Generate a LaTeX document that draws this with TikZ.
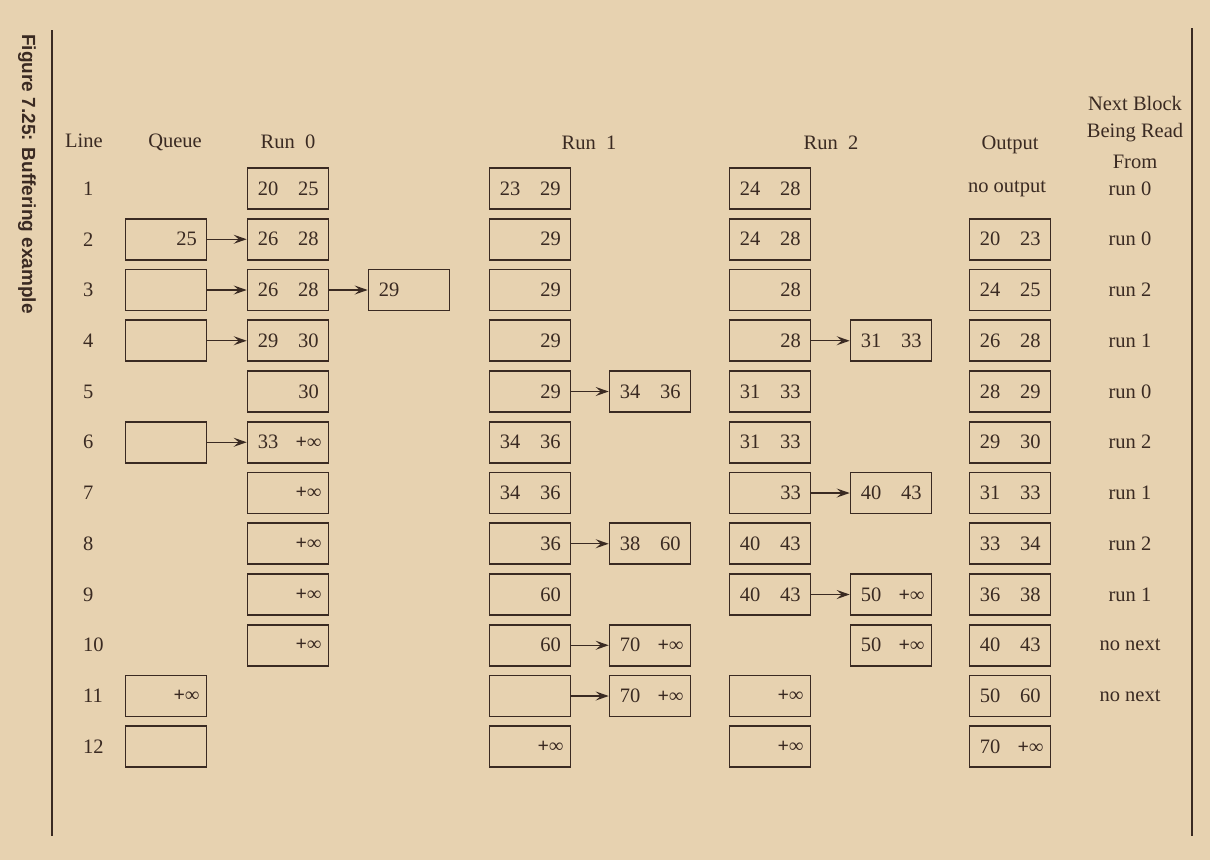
\documentclass[tikz,border=0pt]{standalone}
\usepackage{fontspec}
\setmainfont{Liberation Serif}
\setsansfont{Liberation Sans}
\usetikzlibrary{arrows.meta}
\definecolor{paper}{RGB}{231,210,176}
\definecolor{ink}{RGB}{58,42,34}
\newcommand\cellpair[2]{\makebox[41pt]{#1}\makebox[40pt]{#2}}
\newcommand\inft{{\fontsize{20}{20}\selectfont\bfseries +∞}}
\tikzset{
  blk/.style={draw=ink, line width=1.6pt, minimum width=81pt, minimum height=41pt, inner sep=0pt, text=ink},
  hdr/.style={text=ink, inner sep=0pt},
  lnum/.style={text=ink, anchor=west, inner sep=0pt},
  conn/.style={draw=ink, line width=1.4pt, -{Stealth[length=13pt,width=9pt,inset=5pt]}},
  rule/.style={draw=ink, line width=1.7pt}
}
\begin{document}
\begin{tikzpicture}[x=1pt,y=-1pt, font=\fontsize{20.5}{24}\selectfont]
\fill[paper] (0,0) rectangle (1210,860);
\useasboundingbox (0,0) rectangle (1210,860);
% frame lines
\coordinate (lt) at (52,30); \coordinate (lb) at (52,836);
\coordinate (rt) at (1192,28); \coordinate (rb) at (1192,836);
\draw[rule] (lt) -- (lb);
\draw[rule] (rt) -- (rb);
\node[rotate=-90, text=ink, inner sep=0pt, font=\sffamily\bfseries\fontsize{19}{22}\selectfont] (cap) at (27,174) {Figure 7.25: Buffering example};
% headers
\node[hdr] (hLine) at (84,141) {Line};
\node[hdr] (hQueue) at (175,142) {Queue};
\node[hdr] (hR0) at (288,142) {Run\ \ 0};
\node[hdr] (hR1) at (589,143) {Run\ \ 1};
\node[hdr] (hR2) at (831,143) {Run\ \ 2};
\node[hdr] (hOut) at (1010,145) {Output};
\node[hdr] (hN1) at (1135,103) {Next Block};
\node[hdr] (hN2) at (1135,133) {Being Read};
\node[hdr] (hN3) at (1135,162) {From};
% line numbers
\node[lnum] (l1) at (83,188.5) {1};
\node[lnum] (l2) at (83,239.25) {2};
\node[lnum] (l3) at (83,290) {3};
\node[lnum] (l4) at (83,340.75) {4};
\node[lnum] (l5) at (83,391.5) {5};
\node[lnum] (l6) at (83,442.25) {6};
\node[lnum] (l7) at (83,493) {7};
\node[lnum] (l8) at (83,543.75) {8};
\node[lnum] (l9) at (83,594.5) {9};
\node[lnum] (l10) at (83,645.25) {10};
\node[lnum] (l11) at (83,696) {11};
\node[lnum] (l12) at (83,746.75) {12};
% queue
\node[blk] (q2) at (166,239.25) {\cellpair{}{25}};
\node[blk] (q3) at (166,290) {\cellpair{}{}};
\node[blk] (q4) at (166,340.75) {\cellpair{}{}};
\node[blk] (q6) at (166,442.25) {\cellpair{}{}};
\node[blk] (q11) at (166,696) {\cellpair{}{\inft}};
\node[blk] (q12) at (166,746.75) {\cellpair{}{}};
% run 0
\node[blk] (a1) at (288,188.5) {\cellpair{20}{25}};
\node[blk] (a2) at (288,239.25) {\cellpair{26}{28}};
\node[blk] (a3) at (288,290) {\cellpair{26}{28}};
\node[blk] (a3x) at (409,290) {\cellpair{29}{}};
\node[blk] (a4) at (288,340.75) {\cellpair{29}{30}};
\node[blk] (a5) at (288,391.5) {\cellpair{}{30}};
\node[blk] (a6) at (288,442.25) {\cellpair{33}{\inft}};
\node[blk] (a7) at (288,493) {\cellpair{}{\inft}};
\node[blk] (a8) at (288,543.75) {\cellpair{}{\inft}};
\node[blk] (a9) at (288,594.5) {\cellpair{}{\inft}};
\node[blk] (a10) at (288,645.25) {\cellpair{}{\inft}};
% run 1
\node[blk] (b1) at (530,188.5) {\cellpair{23}{29}};
\node[blk] (b2) at (530,239.25) {\cellpair{}{29}};
\node[blk] (b3) at (530,290) {\cellpair{}{29}};
\node[blk] (b4) at (530,340.75) {\cellpair{}{29}};
\node[blk] (b5) at (530,391.5) {\cellpair{}{29}};
\node[blk] (b5x) at (650,391.5) {\cellpair{34}{36}};
\node[blk] (b6) at (530,442.25) {\cellpair{34}{36}};
\node[blk] (b7) at (530,493) {\cellpair{34}{36}};
\node[blk] (b8) at (530,543.75) {\cellpair{}{36}};
\node[blk] (b8x) at (650,543.75) {\cellpair{38}{60}};
\node[blk] (b9) at (530,594.5) {\cellpair{}{60}};
\node[blk] (b10) at (530,645.25) {\cellpair{}{60}};
\node[blk] (b10x) at (650,645.25) {\cellpair{70}{\inft}};
\node[blk] (b11) at (530,696) {\cellpair{}{}};
\node[blk] (b11x) at (650,696) {\cellpair{70}{\inft}};
\node[blk] (b12) at (530,746.75) {\cellpair{}{\inft}};
% run 2
\node[blk] (c1) at (770,188.5) {\cellpair{24}{28}};
\node[blk] (c2) at (770,239.25) {\cellpair{24}{28}};
\node[blk] (c3) at (770,290) {\cellpair{}{28}};
\node[blk] (c4) at (770,340.75) {\cellpair{}{28}};
\node[blk] (c4x) at (891,340.75) {\cellpair{31}{33}};
\node[blk] (c5) at (770,391.5) {\cellpair{31}{33}};
\node[blk] (c6) at (770,442.25) {\cellpair{31}{33}};
\node[blk] (c7) at (770,493) {\cellpair{}{33}};
\node[blk] (c7x) at (891,493) {\cellpair{40}{43}};
\node[blk] (c8) at (770,543.75) {\cellpair{40}{43}};
\node[blk] (c9) at (770,594.5) {\cellpair{40}{43}};
\node[blk] (c9x) at (891,594.5) {\cellpair{50}{\inft}};
\node[blk] (c10x) at (891,645.25) {\cellpair{50}{\inft}};
\node[blk] (c11) at (770,696) {\cellpair{}{\inft}};
\node[blk] (c12) at (770,746.75) {\cellpair{}{\inft}};
% output
\node[hdr] (o1) at (1007,188.5) {no output};
\node[blk] (o2) at (1010,239.25) {\cellpair{20}{23}};
\node[blk] (o3) at (1010,290) {\cellpair{24}{25}};
\node[blk] (o4) at (1010,340.75) {\cellpair{26}{28}};
\node[blk] (o5) at (1010,391.5) {\cellpair{28}{29}};
\node[blk] (o6) at (1010,442.25) {\cellpair{29}{30}};
\node[blk] (o7) at (1010,493) {\cellpair{31}{33}};
\node[blk] (o8) at (1010,543.75) {\cellpair{33}{34}};
\node[blk] (o9) at (1010,594.5) {\cellpair{36}{38}};
\node[blk] (o10) at (1010,645.25) {\cellpair{40}{43}};
\node[blk] (o11) at (1010,696) {\cellpair{50}{60}};
\node[blk] (o12) at (1010,746.75) {\cellpair{70}{\inft}};
% next block
\node[hdr] (n1) at (1130,188.5) {run 0};
\node[hdr] (n2) at (1130,239.25) {run 0};
\node[hdr] (n3) at (1130,290) {run 2};
\node[hdr] (n4) at (1130,340.75) {run 1};
\node[hdr] (n5) at (1130,391.5) {run 0};
\node[hdr] (n6) at (1130,442.25) {run 2};
\node[hdr] (n7) at (1130,493) {run 1};
\node[hdr] (n8) at (1130,543.75) {run 2};
\node[hdr] (n9) at (1130,594.5) {run 1};
\node[hdr] (n10) at (1130,645.25) {no next};
\node[hdr] (n11) at (1130,696) {no next};
% arrows
\draw[conn] (q2) -- (a2);
\draw[conn] (q3) -- (a3);
\draw[conn] (a3) -- (a3x);
\draw[conn] (q4) -- (a4);
\draw[conn] (c4) -- (c4x);
\draw[conn] (b5) -- (b5x);
\draw[conn] (q6) -- (a6);
\draw[conn] (c7) -- (c7x);
\draw[conn] (b8) -- (b8x);
\draw[conn] (c9) -- (c9x);
\draw[conn] (b10) -- (b10x);
\draw[conn] (b11) -- (b11x);
\end{tikzpicture}
\end{document}
